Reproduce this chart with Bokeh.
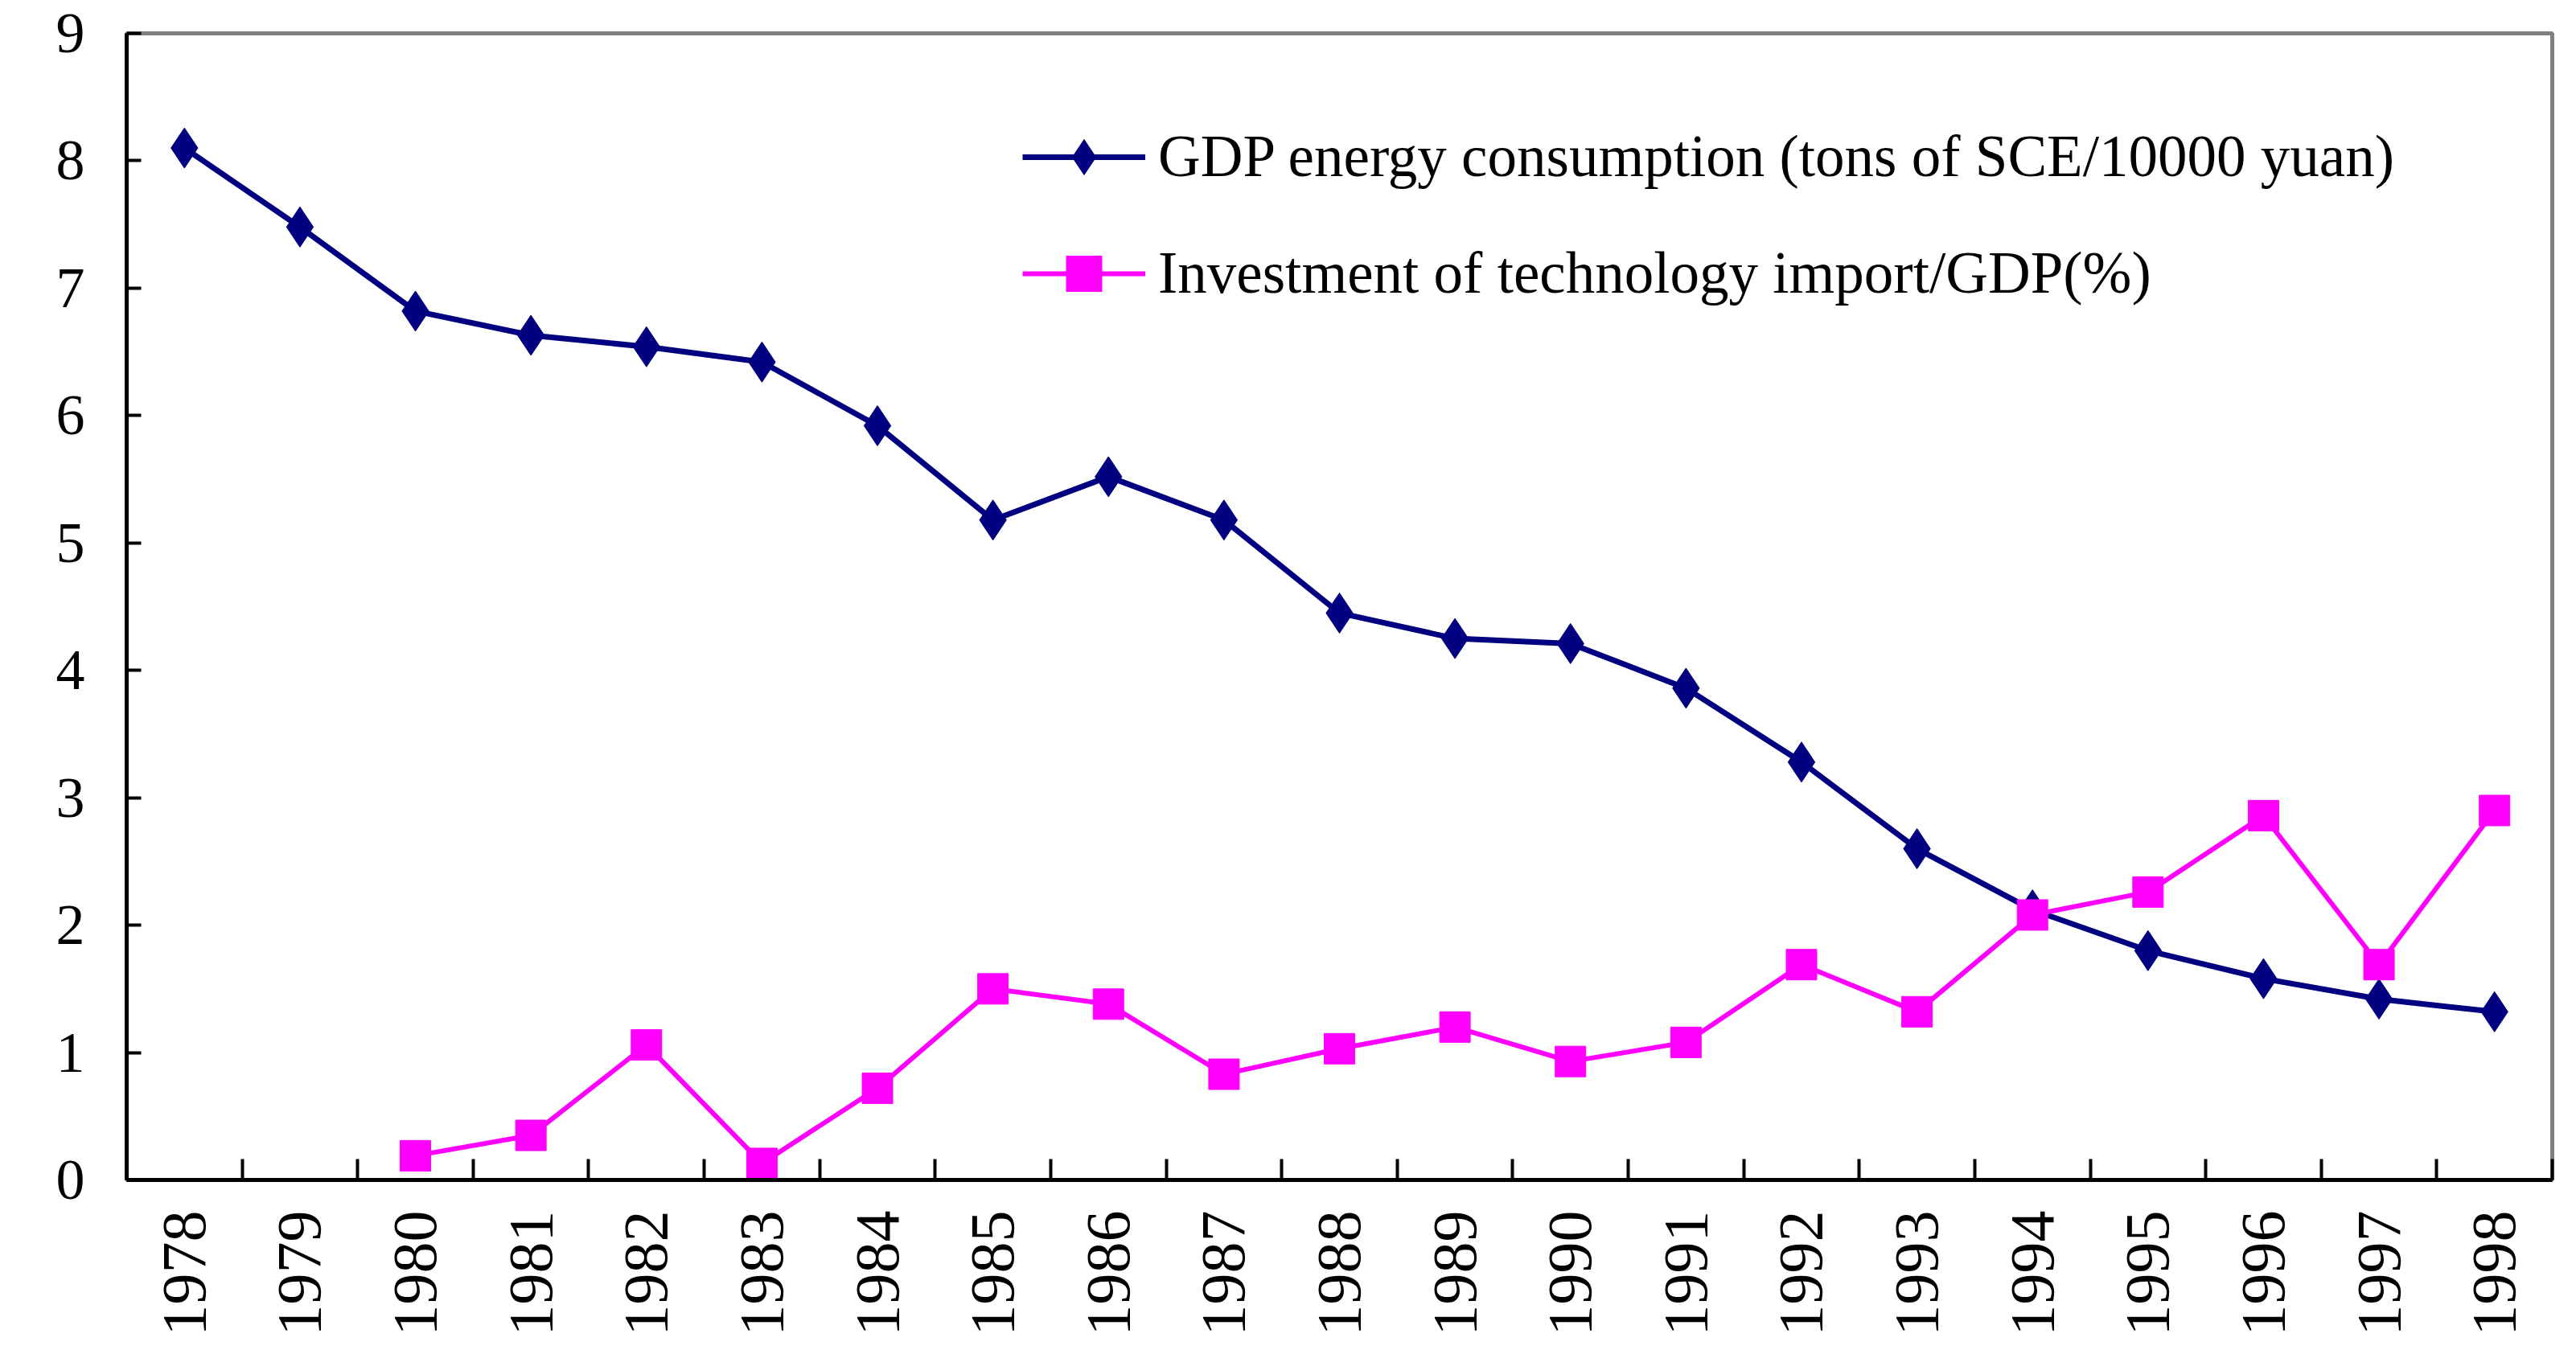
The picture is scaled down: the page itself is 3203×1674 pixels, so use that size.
import math
from bokeh.plotting import figure
from bokeh.models import FixedTicker, Range1d, Legend, LegendItem, ColumnDataSource
from bokeh.embed import file_html
from bokeh.resources import INLINE

years = ["1978", "1979", "1980", "1981", "1982", "1983", "1984", "1985", "1986", "1987",
         "1988", "1989", "1990", "1991", "1992", "1993", "1994", "1995", "1996", "1997", "1998"]
gdp_energy = [8.10, 7.48, 6.82, 6.63, 6.54, 6.42, 5.92, 5.18, 5.52, 5.18,
              4.45, 4.25, 4.21, 3.86, 3.28, 2.60, 2.12, 1.80, 1.58, 1.42, 1.32]
inv_years = ["1980", "1981", "1982", "1983", "1984", "1985", "1986", "1987", "1988", "1989",
             "1990", "1991", "1992", "1993", "1994", "1995", "1996", "1997", "1998"]
tech_invest = [0.19, 0.35, 1.06, 0.13, 0.72, 1.50, 1.38, 0.83, 1.03, 1.20,
               0.93, 1.08, 1.69, 1.32, 2.08, 2.26, 2.86, 1.69, 2.90]
y_ticks = [0, 1, 2, 3, 4, 5, 6, 7, 8, 9]

FONT = "Liberation Serif"
NAVY = "#000080"
MAGENTA = "#FF00FF"

x_gdp = [years.index(y) for y in years]
x_inv = [years.index(y) for y in inv_years]

src_gdp = ColumnDataSource(dict(x=x_gdp, y=gdp_energy))
src_inv = ColumnDataSource(dict(x=x_inv, y=tech_invest))

p = figure(frame_width=3016, frame_height=1426,
           x_range=Range1d(-0.5, len(years) - 0.5), y_range=Range1d(0, 9),
           output_backend="svg", toolbar_location=None,
           min_border_left=157, min_border_right=14, min_border_top=41, min_border_bottom=191)
p.background_fill_color = "white"
p.border_fill_color = "white"
p.outline_line_color = "#808080"
p.outline_line_width = 5
p.xgrid.visible = False
p.ygrid.visible = False

l1 = p.line("x", "y", source=src_gdp, line_color=NAVY, line_width=7)
m1 = p.scatter("x", "y", source=src_gdp, marker="diamond", size=50,
               fill_color=NAVY, line_color=NAVY)
l2 = p.line("x", "y", source=src_inv, line_color=MAGENTA, line_width=6)
m2 = p.scatter("x", "y", source=src_inv, marker="square", size=38,
               fill_color=MAGENTA, line_color=MAGENTA)

# x axis
xa = p.xaxis[0]
xa.ticker = FixedTicker(ticks=list(range(len(years))),
                        minor_ticks=[i - 0.5 for i in range(len(years) + 1)])
xa.major_label_overrides = {i: y for i, y in enumerate(years)}
xa.major_label_orientation = math.pi / 2
xa.major_tick_in = 0
xa.major_tick_out = 0
xa.minor_tick_in = 26
xa.minor_tick_out = 0
xa.minor_tick_line_color = "black"
xa.minor_tick_line_width = 4
xa.axis_line_color = "black"
xa.axis_line_width = 5
xa.major_label_text_font = FONT
xa.major_label_text_font_size = "78px"
xa.major_label_text_color = "black"
xa.major_label_standoff = 38

# y axis
ya = p.yaxis[0]
ya.ticker = FixedTicker(ticks=y_ticks, minor_ticks=[])
ya.major_tick_in = 18
ya.major_tick_out = 0
ya.major_tick_line_color = "black"
ya.major_tick_line_width = 4
ya.minor_tick_in = 0
ya.minor_tick_out = 0
ya.axis_line_color = "black"
ya.axis_line_width = 5
ya.major_label_text_font = FONT
ya.major_label_text_font_size = "72px"
ya.major_label_text_color = "black"
ya.major_label_standoff = 52

legend = Legend(items=[
    LegendItem(label="GDP energy consumption (tons of SCE/10000 yuan)", renderers=[l1, m1]),
    LegendItem(label="Investment of technology import/GDP(%)", renderers=[l2, m2]),
], location=(1114, 1072))
legend.border_line_color = None
legend.background_fill_alpha = 0
legend.margin = 0
legend.padding = 0
legend.glyph_width = 153
legend.glyph_height = 110
legend.label_height = 110
legend.label_standoff = 16
legend.spacing = 35
legend.label_text_font = FONT
legend.label_text_font_size = "73px"
legend.label_text_color = "black"
p.add_layout(legend)

open("out.html", "w").write(file_html(p, INLINE))
